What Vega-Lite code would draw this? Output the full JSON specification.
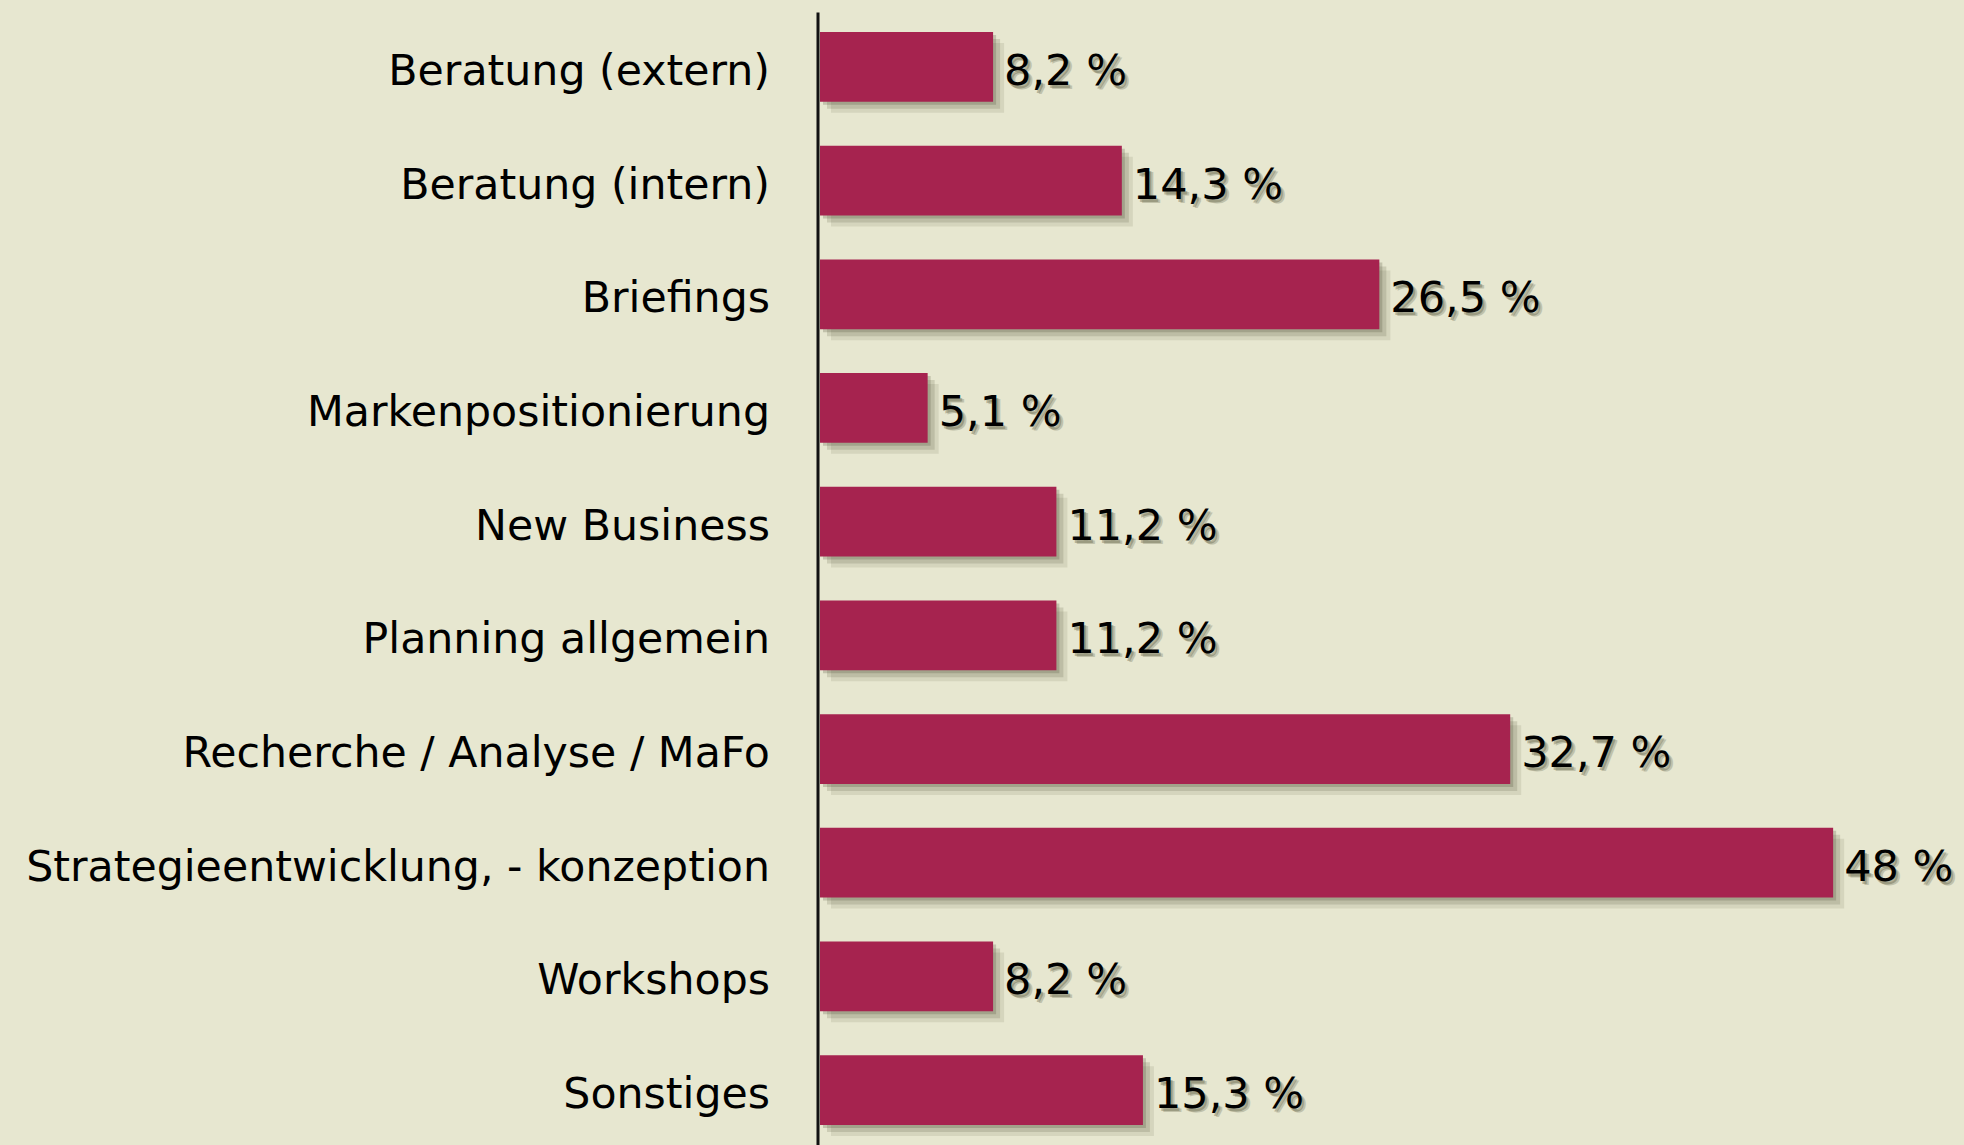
{
  "$schema": "https://vega.github.io/schema/vega-lite/v6.json",
  "autosize": {"type": "none"},
  "padding": {"left": 820, "top": 12, "right": 0, "bottom": 0},
  "width": 1144,
  "height": 1133,
  "background": "#E7E7D0",
  "config": {"view": {"stroke": null}, "font": "DejaVu Sans"},
  "data": {
    "values": [
      {"cat": "Beratung (extern)", "value": 8.2, "label": "8,2 %"},
      {"cat": "Beratung (intern)", "value": 14.3, "label": "14,3 %"},
      {"cat": "Briefings", "value": 26.5, "label": "26,5 %"},
      {"cat": "Markenpositionierung", "value": 5.1, "label": "5,1 %"},
      {"cat": "New Business", "value": 11.2, "label": "11,2 %"},
      {"cat": "Planning allgemein", "value": 11.2, "label": "11,2 %"},
      {"cat": "Recherche / Analyse / MaFo", "value": 32.7, "label": "32,7 %"},
      {"cat": "Strategieentwicklung, - konzeption", "value": 48, "label": "48 %"},
      {"cat": "Workshops", "value": 8.2, "label": "8,2 %"},
      {"cat": "Sonstiges", "value": 15.3, "label": "15,3 %"}
    ]
  },
  "encoding": {
    "y": {
      "field": "cat", "type": "nominal", "sort": null,
      "scale": {"paddingInner": 0.386, "paddingOuter": 0.176},
      "axis": {
        "title": null, "domain": true, "domainColor": "#111111", "domainWidth": 3,
        "offset": 2.5, "ticks": false, "grid": false,
        "labelFont": "DejaVu Sans", "labelFontSize": 42.7, "labelColor": "#000000",
        "labelPadding": 48, "labelLimit": 0, "labelOffset": 5
      }
    },
    "x": {
      "field": "value", "type": "quantitative",
      "scale": {"domain": [0, 54.2], "nice": false},
      "axis": null
    }
  },
  "layer": [
    {"mark": {"type": "bar", "color": "#55553A", "opacity": 0.12, "xOffset": 11, "x2Offset": 11, "yOffset": 11, "y2Offset": 11}},
    {"mark": {"type": "bar", "color": "#55553A", "opacity": 0.18, "xOffset": 7, "x2Offset": 7, "yOffset": 7, "y2Offset": 7}},
    {"mark": {"type": "bar", "color": "#55553A", "opacity": 0.25, "xOffset": 3, "x2Offset": 3, "yOffset": 3, "y2Offset": 3}},
    {"mark": {"type": "bar", "color": "#A6234F"}},
    {"mark": {"type": "text", "align": "left", "baseline": "middle", "dx": 15, "dy": 9, "fontSize": 43, "font": "DejaVu Sans", "color": "#55553A", "opacity": 0.25}, "encoding": {"text": {"field": "label"}}},
    {"mark": {"type": "text", "align": "left", "baseline": "middle", "dx": 13, "dy": 8, "fontSize": 43, "font": "DejaVu Sans", "color": "#55553A", "opacity": 0.35}, "encoding": {"text": {"field": "label"}}},
    {"mark": {"type": "text", "align": "left", "baseline": "middle", "dx": 11, "dy": 5, "fontSize": 43, "font": "DejaVu Sans", "color": "#000000"}, "encoding": {"text": {"field": "label"}}}
  ]
}
